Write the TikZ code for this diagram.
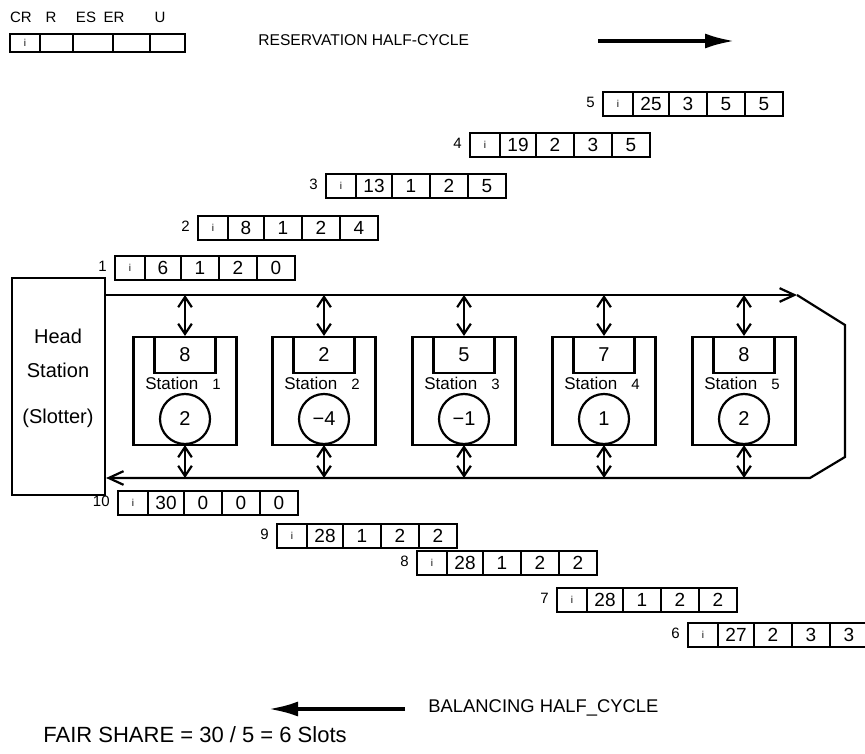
\documentclass[tikz,border=0pt]{standalone}
\usepackage{fontspec}
\setmainfont{Liberation Sans}
\usetikzlibrary{positioning, arrows.meta, calc}
\tikzset{
  ring/.style={-{Straight Barb[length=2.6mm,width=2.4mm]}, line width=1.1pt, draw=black},
  dbl/.style={{Straight Barb[length=1.8mm,width=2.4mm]}-{Straight Barb[length=1.8mm,width=2.4mm]}, line width=1.1pt},
  big/.style={-{Latex[length=15pt,width=7.5pt]}, line width=2pt},
  cell/.style={draw, line width=1.1pt, minimum height=12pt, inner sep=0pt, outer sep=0pt, font=\fontsize{9.5}{10}\selectfont},
  leg/.style={draw, line width=1.1pt, minimum height=9pt, inner sep=0pt, outer sep=0pt},
  stn/.style={draw, line width=1.1pt, minimum width=51.5pt, minimum height=54pt, inner sep=0pt},
  buf/.style={draw, line width=1.1pt, minimum width=30.5pt, minimum height=18pt, inner sep=0pt, font=\fontsize{10}{12}\selectfont},
  cnt/.style={draw, circle, line width=1.1pt, minimum size=25pt, inner sep=0pt, font=\fontsize{10}{12}\selectfont},
  lab/.style={font=\fontsize{7.5}{9}\selectfont, inner sep=1pt},
  txt/.style={font=\fontsize{7.8}{9}\selectfont, inner sep=0pt, anchor=west}
}
% one slot packet: name, left x, mid y, sequence no., four fields after CR
\newcommand{\slotpkt}[8]{%
  \node[cell, minimum width=15pt, anchor=west] (#1i) at (#2,#3) {\tiny i};
  \node[cell, minimum width=18pt, right=0pt of #1i] (#1a) {#5};
  \node[cell, minimum width=19pt, right=0pt of #1a] (#1b) {#6};
  \node[cell, minimum width=19pt, right=0pt of #1b] (#1c) {#7};
  \node[cell, minimum width=19pt, right=0pt of #1c] (#1d) {#8};
  \node[lab, left=3pt of #1i, yshift=1pt] (#1n) {#4};
}

\begin{document}
\begin{tikzpicture}[x=0.5pt, y=-0.5pt]
\useasboundingbox (0,0) rectangle (865,753);

% field legend
\node[leg, minimum width=15pt, anchor=west] (lg1) at (10,43) {\tiny i};
\node[leg, minimum width=16.5pt, right=0pt of lg1] (lg2) {};
\node[leg, minimum width=20pt, right=0pt of lg2] (lg3) {};
\node[leg, minimum width=18.5pt, right=0pt of lg3] (lg4) {};
\node[leg, minimum width=17.5pt, right=0pt of lg4] (lg5) {};
\node[lab] (lcr) at (21,17) {CR};
\node[lab] (lr) at (51,17) {R};
\node[lab] (les) at (86,17) {ES};
\node[lab] (ler) at (114,17) {ER};
\node[lab] (lu) at (160,17) {U};

\node[txt] (resv) at (258,40) {RESERVATION HALF-CYCLE};
\coordinate (ra) at (598,41);
\coordinate (rb) at (735,41);
\draw[big] (ra) -- (rb);

% head station
\node[draw, line width=1.1pt, minimum width=46.5pt, minimum height=108.5pt] (head) at (58.5,386.5) {};
\node[font=\fontsize{10}{12}\selectfont, align=center] (headtxt) at (58,378)
  {Head\\[5pt]Station\\[11pt](Slotter)};

% bus ring
\coordinate (rt) at (797,295);
\coordinate (rc1) at (845,325);
\coordinate (rc2) at (845,457);
\coordinate (rbr) at (810,478);
\draw[ring] (head.east |- rt) -- (rt);
\draw[ring] (rt) -- (rc1) -- (rc2) -- (rbr) -- (head.east |- rbr);

% stations
\foreach \n/\x/\q/\c in {1/185/8/2, 2/324/2/{−4}, 3/464/5/{−1}, 4/604/7/1, 5/744/8/2} {
  \node[stn] (st\n) at (\x,391) {};
  \node[buf, anchor=north] (bf\n) at (st\n.north) {\q};
  \node[font=\fontsize{8.5}{10}\selectfont, anchor=base] (nm\n) at (\x-2,389) {Station\hspace{7pt}{\fontsize{7.5}{9}\selectfont\n}};
  \node[cnt] (ct\n) at (\x,419) {\c};
  \coordinate (tp\n) at (\x,295);
  \coordinate (bt\n) at (\x,478);
  \draw[dbl] (tp\n) -- (bf\n.north);
  \draw[dbl] (ct\n.south) -- (bt\n);
}

% reservation packets
\slotpkt{pa}{115}{268}{1}{6}{1}{2}{0}
\slotpkt{pb}{198}{228}{2}{8}{1}{2}{4}
\slotpkt{pc}{326}{186}{3}{13}{1}{2}{5}
\slotpkt{pd}{470}{145}{4}{19}{2}{3}{5}
\slotpkt{pe}{603}{104}{5}{25}{3}{5}{5}
% balancing packets
\slotpkt{pf}{688}{635}{6}{27}{2}{3}{3}
\slotpkt{pg}{557}{600}{7}{28}{1}{2}{2}
\slotpkt{ph}{417}{563}{8}{28}{1}{2}{2}
\slotpkt{pj}{277}{536}{9}{28}{1}{2}{2}
\slotpkt{pk}{118}{503}{10}{30}{0}{0}{0}

\coordinate (ba) at (405,709);
\coordinate (bb) at (268,709);
\draw[big] (ba) -- (bb);
\node[txt, font=\fontsize{9.2}{11}\selectfont] (bal) at (428,708) {BALANCING HALF\_CYCLE};
\node[txt, font=\fontsize{11}{13}\selectfont] (fair) at (43,735) {FAIR SHARE = 30 / 5 = 6 Slots};
\end{tikzpicture}
\end{document}
